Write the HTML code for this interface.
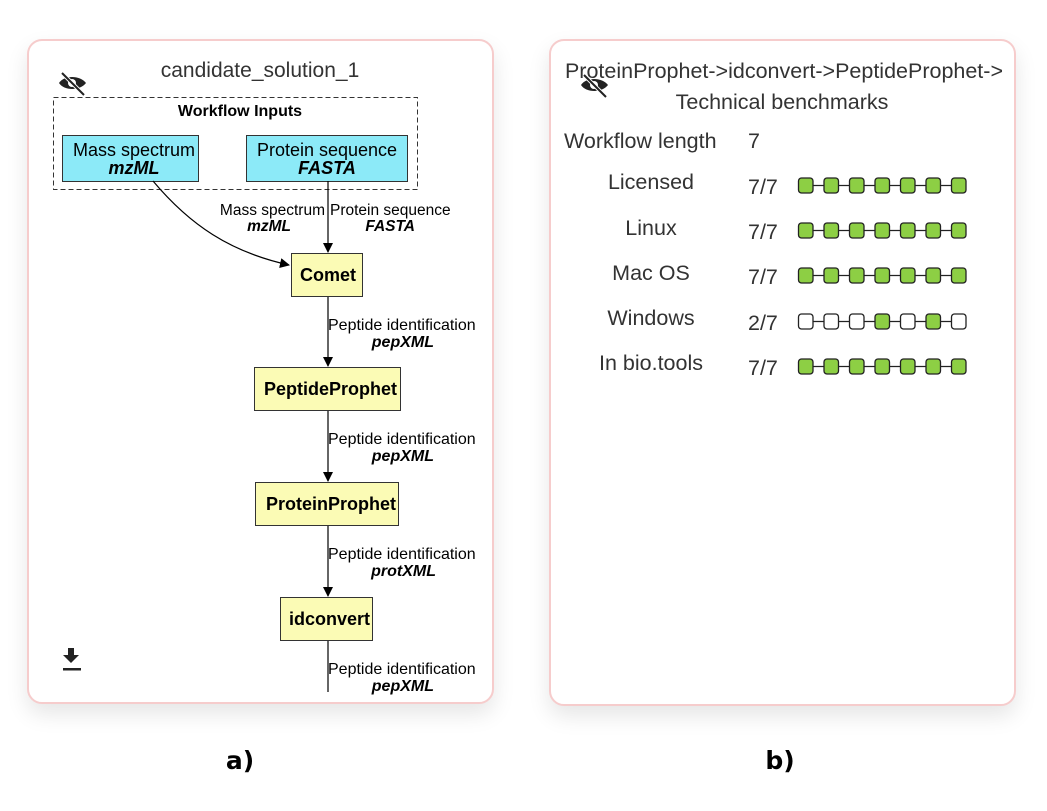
<!DOCTYPE html>
<html><head><meta charset="utf-8"><style>
html,body{margin:0;padding:0;background:#fff;width:1047px;height:811px;overflow:hidden}
.card{position:absolute;border:2px solid #f6cccc;border-radius:15px;background:#fff;box-shadow:0 10px 22px rgba(0,0,0,0.10)}
svg{position:absolute;left:0;top:0}
</style></head><body>
<div class="card" style="left:27px;top:39px;width:463px;height:661px"></div>
<div class="card" style="left:549px;top:39px;width:463px;height:663px"></div>
<svg width="1047" height="811" viewBox="0 0 1047 811" font-family="Liberation Sans, Arial, sans-serif">
<defs>
<marker id="ah" markerWidth="10" markerHeight="10" refX="9" refY="5" orient="auto" markerUnits="userSpaceOnUse"><path d="M0,0 L10,5 L0,10 z" fill="#000"/></marker>
<clipPath id="cr"><rect x="553" y="42" width="457" height="660" rx="13"/></clipPath>
<clipPath id="c1"><rect x="255" y="368" width="145" height="42"/></clipPath>
<clipPath id="c2"><rect x="256" y="483" width="142" height="42"/></clipPath>
<clipPath id="c3"><rect x="281" y="598" width="91" height="42"/></clipPath>
</defs>
<!-- Left card -->
<text x="260" y="77" font-size="21" fill="#333" text-anchor="middle">candidate_solution_1</text>
<g transform="translate(58,72)">
<path d="M1,11 C6,3 22,3 28,11 C22,19 6,19 1,11 z" fill="#222"/>
<circle cx="14" cy="11" r="4" fill="#fff"/>
<line x1="4" y1="1" x2="26" y2="23" stroke="#fff" stroke-width="4"/>
<line x1="4" y1="1" x2="26" y2="23" stroke="#222" stroke-width="2"/>
</g>
<rect x="53.5" y="97.5" width="364" height="92" fill="none" stroke="#333" stroke-dasharray="5,3"/>
<text x="240" y="116" font-size="16" font-weight="bold" text-anchor="middle">Workflow Inputs</text>
<rect x="62.5" y="135.5" width="136" height="46" fill="#8ceaf8" stroke="#333"/>
<text x="134" y="156" font-size="18" text-anchor="middle">Mass spectrum</text>
<text x="134" y="174" font-size="18" font-weight="bold" font-style="italic" text-anchor="middle">mzML</text>
<rect x="246.5" y="135.5" width="161" height="46" fill="#8ceaf8" stroke="#333"/>
<text x="327" y="156" font-size="18" text-anchor="middle">Protein sequence</text>
<text x="327" y="174" font-size="18" font-weight="bold" font-style="italic" text-anchor="middle">FASTA</text>
<path d="M153,181 C190,225 230,252 289,265" fill="none" stroke="#000" stroke-width="1.2" marker-end="url(#ah)"/>
<line x1="328" y1="181" x2="328" y2="252" stroke="#000" stroke-width="1.2" marker-end="url(#ah)"/>
<text x="325" y="215" font-size="15.5" text-anchor="end">Mass spectrum</text>
<text x="291" y="231" font-size="15.5" font-weight="bold" font-style="italic" text-anchor="end">mzML</text>
<text x="330" y="215" font-size="15.5">Protein sequence</text>
<text x="415" y="231" font-size="15.5" font-weight="bold" font-style="italic" text-anchor="end">FASTA</text>
<rect x="291.5" y="253.5" width="71" height="43" fill="#fbfbb5" stroke="#333"/>
<text x="300" y="281" font-size="18" font-weight="bold">Comet</text>
<line x1="328" y1="297" x2="328" y2="366" stroke="#000" stroke-width="1.2" marker-end="url(#ah)"/>
<text x="328" y="330" font-size="16">Peptide identification</text>
<text x="434" y="347" font-size="16" font-weight="bold" font-style="italic" text-anchor="end">pepXML</text>
<rect x="254.5" y="367.5" width="146" height="43" fill="#fbfbb5" stroke="#333"/>
<text x="264" y="395" font-size="18" font-weight="bold" clip-path="url(#c1)">PeptideProphet</text>
<line x1="328" y1="411" x2="328" y2="481" stroke="#000" stroke-width="1.2" marker-end="url(#ah)"/>
<text x="328" y="444" font-size="16">Peptide identification</text>
<text x="434" y="461" font-size="16" font-weight="bold" font-style="italic" text-anchor="end">pepXML</text>
<rect x="255.5" y="482.5" width="143" height="43" fill="#fbfbb5" stroke="#333"/>
<text x="266" y="510" font-size="18" font-weight="bold" clip-path="url(#c2)">ProteinProphet</text>
<line x1="328" y1="526" x2="328" y2="596" stroke="#000" stroke-width="1.2" marker-end="url(#ah)"/>
<text x="328" y="559" font-size="16">Peptide identification</text>
<text x="436" y="576" font-size="16" font-weight="bold" font-style="italic" text-anchor="end">protXML</text>
<rect x="280.5" y="597.5" width="92" height="43" fill="#fbfbb5" stroke="#333"/>
<text x="289" y="625" font-size="18" font-weight="bold" clip-path="url(#c3)">idconvert</text>
<line x1="328" y1="641" x2="328" y2="692" stroke="#000" stroke-width="1.2"/>
<text x="328" y="674" font-size="16">Peptide identification</text>
<text x="434" y="691" font-size="16" font-weight="bold" font-style="italic" text-anchor="end">pepXML</text>
<g fill="#222"><path d="M68,648 h6 v7 h5 l-8,8 l-8,-8 h5 z"/><rect x="63" y="668" width="18" height="2.5"/></g>
<!-- Right card -->
<g clip-path="url(#cr)">
<text x="1003" y="78" font-size="21.5" fill="#333" text-anchor="end">ProteinProphet-&gt;idconvert-&gt;PeptideProphet-&gt;</text>
</g>
<g transform="translate(580,74)">
<path d="M1,11 C6,3 22,3 28,11 C22,19 6,19 1,11 z" fill="#222"/>
<circle cx="14" cy="11" r="4" fill="#fff"/>
<line x1="4" y1="1" x2="26" y2="23" stroke="#fff" stroke-width="4"/>
<line x1="4" y1="1" x2="26" y2="23" stroke="#222" stroke-width="2"/>
</g>
<text x="782" y="109" font-size="21.5" fill="#333" text-anchor="middle">Technical benchmarks</text>
<g font-size="21.5" fill="#333">
<text x="564" y="148">Workflow length</text><text x="748" y="148">7</text>
<text x="651" y="189" text-anchor="middle">Licensed</text><text x="748" y="194">7/7</text>
<text x="651" y="235" text-anchor="middle">Linux</text><text x="748" y="239">7/7</text>
<text x="651" y="280" text-anchor="middle">Mac OS</text><text x="748" y="284">7/7</text>
<text x="651" y="325" text-anchor="middle">Windows</text><text x="748" y="330">2/7</text>
<text x="651" y="370" text-anchor="middle">In bio.tools</text><text x="748" y="375">7/7</text>
</g>
<g stroke="#222" stroke-width="1.3">
<line x1="805" y1="185.5" x2="958" y2="185.5"/>
<line x1="805" y1="230.5" x2="958" y2="230.5"/>
<line x1="805" y1="275.5" x2="958" y2="275.5"/>
<line x1="805" y1="321.5" x2="958" y2="321.5"/>
<line x1="805" y1="366.5" x2="958" y2="366.5"/>
</g>
<g stroke="#222" stroke-width="1.3" fill="#8dcf44">
<rect x="798.5" y="178" width="14.5" height="15" rx="3"/><rect x="824" y="178" width="14.5" height="15" rx="3"/><rect x="849.5" y="178" width="14.5" height="15" rx="3"/><rect x="875" y="178" width="14.5" height="15" rx="3"/><rect x="900.5" y="178" width="14.5" height="15" rx="3"/><rect x="926" y="178" width="14.5" height="15" rx="3"/><rect x="951.5" y="178" width="14.5" height="15" rx="3"/>
<rect x="798.5" y="223" width="14.5" height="15" rx="3"/><rect x="824" y="223" width="14.5" height="15" rx="3"/><rect x="849.5" y="223" width="14.5" height="15" rx="3"/><rect x="875" y="223" width="14.5" height="15" rx="3"/><rect x="900.5" y="223" width="14.5" height="15" rx="3"/><rect x="926" y="223" width="14.5" height="15" rx="3"/><rect x="951.5" y="223" width="14.5" height="15" rx="3"/>
<rect x="798.5" y="268" width="14.5" height="15" rx="3"/><rect x="824" y="268" width="14.5" height="15" rx="3"/><rect x="849.5" y="268" width="14.5" height="15" rx="3"/><rect x="875" y="268" width="14.5" height="15" rx="3"/><rect x="900.5" y="268" width="14.5" height="15" rx="3"/><rect x="926" y="268" width="14.5" height="15" rx="3"/><rect x="951.5" y="268" width="14.5" height="15" rx="3"/>
<rect x="798.5" y="314" width="14.5" height="15" rx="3" fill="#fff"/><rect x="824" y="314" width="14.5" height="15" rx="3" fill="#fff"/><rect x="849.5" y="314" width="14.5" height="15" rx="3" fill="#fff"/><rect x="875" y="314" width="14.5" height="15" rx="3"/><rect x="900.5" y="314" width="14.5" height="15" rx="3" fill="#fff"/><rect x="926" y="314" width="14.5" height="15" rx="3"/><rect x="951.5" y="314" width="14.5" height="15" rx="3" fill="#fff"/>
<rect x="798.5" y="359" width="14.5" height="15" rx="3"/><rect x="824" y="359" width="14.5" height="15" rx="3"/><rect x="849.5" y="359" width="14.5" height="15" rx="3"/><rect x="875" y="359" width="14.5" height="15" rx="3"/><rect x="900.5" y="359" width="14.5" height="15" rx="3"/><rect x="926" y="359" width="14.5" height="15" rx="3"/><rect x="951.5" y="359" width="14.5" height="15" rx="3"/>
</g>
<text x="240" y="769" font-size="25" font-weight="bold" text-anchor="middle" font-family="DejaVu Sans, sans-serif">a)</text>
<text x="780" y="769" font-size="25" font-weight="bold" text-anchor="middle" font-family="DejaVu Sans, sans-serif">b)</text>
</svg>
</body></html>
